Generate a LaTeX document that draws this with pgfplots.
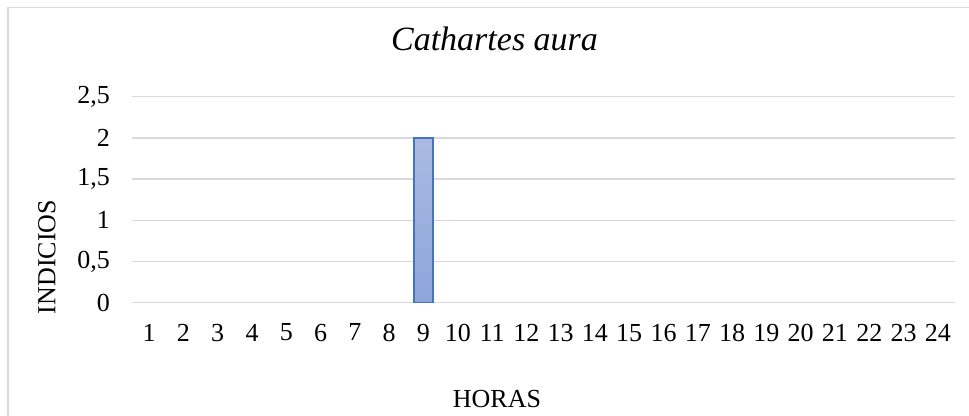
\documentclass[border=0pt]{standalone}
\usepackage{fontspec}
\setmainfont{Liberation Serif}
\usepackage{pgfplots}
\pgfplotsset{compat=1.18}

\definecolor{gridgray}{HTML}{D9D9D9}
\definecolor{bartop}{HTML}{AABAE2}
\definecolor{barbottom}{HTML}{8EA5DB}
\definecolor{baredge}{HTML}{4472C4}

% hour, number of signs
\pgfplotstableread{
hora indicios
1 0
2 0
3 0
4 0
5 0
6 0
7 0
8 0
9 2
10 0
11 0
12 0
13 0
14 0
15 0
16 0
17 0
18 0
19 0
20 0
21 0
22 0
23 0
24 0
}\datos

\begin{document}
\begin{tikzpicture}
\useasboundingbox (0pt,0pt) rectangle (969pt,415pt);
\draw[gridgray, line width=1.5pt] (8pt,-20pt) -- (8pt,407.5pt) -- (990pt,407.5pt);
\begin{axis}[
    at={(132pt,112.3pt)}, anchor=south west,
    scale only axis, width=823pt, height=206pt,
    xmin=0.5, xmax=24.5, ymin=0, ymax=2.5,
    xtick={1,...,24}, ytick={0,0.5,1,1.5,2,2.5},
    axis line style={draw=none},
    major tick length=0pt,
    ymajorgrids, grid style={gridgray, line width=1.5pt},
    font=\fontsize{26}{30}\selectfont,
    /pgf/number format/assume math mode=true,
    /pgf/number format/use comma,
    /pgf/number format/fixed,
    xticklabel style={inner sep=0pt, anchor=north, yshift=-21pt},
    yticklabel style={inner sep=0pt, anchor=east, xshift=-22pt},
    title={\fontsize{34}{40}\selectfont\itshape Cathartes aura},
    title style={at={(axis description cs:0.4405,1.251)}, anchor=center, inner sep=0pt},
    xlabel={HORAS},
    xlabel style={at={(axis description cs:0.4435,-0.467)}, anchor=center, inner sep=0pt},
    ylabel={INDICIOS},
    ylabel style={at={(axis description cs:-0.1033,0.222)}, anchor=center, inner sep=0pt},
    ybar, bar width=19pt, bar shift=0pt,
    restrict y to domain=0.001:10,
    clip=false,
]
\addplot[top color=bartop, bottom color=barbottom, draw=baredge, line width=1.6pt]
    table[x=hora, y=indicios] {\datos};
\end{axis}
\end{tikzpicture}
\end{document}
